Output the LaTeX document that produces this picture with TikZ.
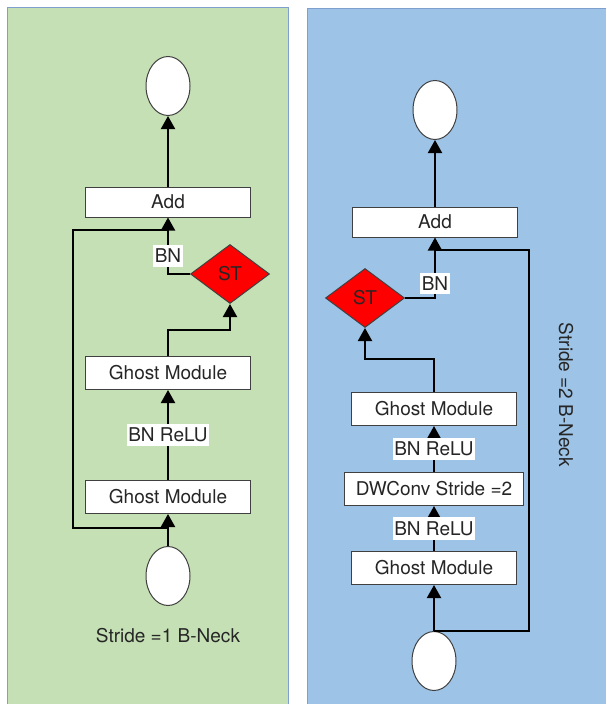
\documentclass[tikz,border=0pt]{standalone}
\usepackage{fontspec}
\setmainfont{TeX Gyre Heros}
\usepackage{xcolor}
\usetikzlibrary{arrows.meta,positioning,shapes.geometric}
\definecolor{panelgreen}{HTML}{C5E0B4}
\definecolor{panelblue}{HTML}{9DC3E6}
\definecolor{paneledge}{HTML}{7F9FCF}
\definecolor{textgrey}{HTML}{262626}
\tikzset{
  every node/.style={font=\fontsize{19}{23}\selectfont, text=textgrey},
  block/.style={draw=black!75, fill=white, line width=1pt, inner sep=0pt, minimum height=33pt},
  io/.style={ellipse, draw=black!75, fill=white, line width=1pt, inner sep=0pt, minimum width=44pt, minimum height=59pt},
  stbox/.style={diamond, draw=black!75, fill=red, line width=1pt, inner sep=0pt, aspect=1.34, minimum width=79pt, minimum height=59pt},
  lbl/.style={fill=white, inner xsep=1.5pt, inner ysep=4pt},
  wire/.style={line width=2pt},
  arr/.style={wire, -{Triangle[width=14pt,length=13pt]}}
}
\begin{document}
\begin{tikzpicture}[x=1pt,y=-1pt]
\useasboundingbox (0,0) rectangle (606,704);
\fill[panelgreen] (7,7) rectangle (288,704);
\draw[paneledge, line width=1pt] (7,704) -- (7,7) -- (288,7) -- (288,704);
\fill[panelblue] (307,8) rectangle (606,704);
\draw[paneledge, line width=1pt] (307,704) -- (307,8) -- (606,8);

\node[io] (outL) at (168,86) {};
\node[block, minimum width=165pt, minimum height=30pt] (addL) at (168,202) {Add};
\node[stbox] (stL) at (230,274) {ST};
\node[block, minimum width=165pt] (gm1L) at (168,373) {Ghost Module};
\node[block, minimum width=165pt] (gm2L) at (168,497) {Ghost Module};
\node[io] (inL) at (168,576) {};
\node (capL) at (168,636) {Stride =1 B-Neck};
\coordinate (splitL) at (168,528);
\coordinate (cornerL) at (73,230);
\coordinate (joinL) at (168,230);
\coordinate (bendL) at (168,330);

\draw[arr] (addL) -- (outL);
\draw[arr] (stL.west) -| node[lbl, pos=0.66] {BN} (addL.south);
\draw[wire] (splitL) -| (cornerL) -- (joinL);
\draw[arr] (inL) -- (gm2L);
\draw[arr] (gm2L) -- node[lbl] {BN ReLU} (gm1L);
\draw[arr] (gm1L.north) -- (bendL) -| (stL.south);

\node[io] (outR) at (435,110) {};
\node[block, minimum width=165pt, minimum height=30pt] (addR) at (435,222) {Add};
\node[stbox] (stR) at (365,298) {ST};
\node[block, minimum width=165pt] (gm1R) at (434,409) {Ghost Module};
\node[block, minimum width=179pt] (dwR) at (434,489) {DWConv Stride =2};
\node[block, minimum width=165pt] (gm2R) at (434,568) {Ghost Module};
\node[io] (inR) at (434,661) {};
\node[rotate=-90] (capR) at (566,395) {Stride =2 B-Neck};
\coordinate (splitR) at (434,631);
\coordinate (cornerR) at (529,250);
\coordinate (joinR) at (435,250);
\coordinate (bendR) at (434,359);

\draw[arr] (addR) -- (outR);
\draw[arr] (stR.east) -| node[lbl, pos=0.62] {BN} (addR.south);
\draw[wire] (splitR) -| (cornerR) -- (joinR);
\draw[arr] (inR) -- (gm2R);
\draw[arr] (gm2R) -- node[lbl] {BN ReLU} (dwR);
\draw[arr] (dwR) -- node[lbl] {BN ReLU} (gm1R);
\draw[arr] (gm1R.north) -- (bendR) -| (stR.south);
\end{tikzpicture}
\end{document}
